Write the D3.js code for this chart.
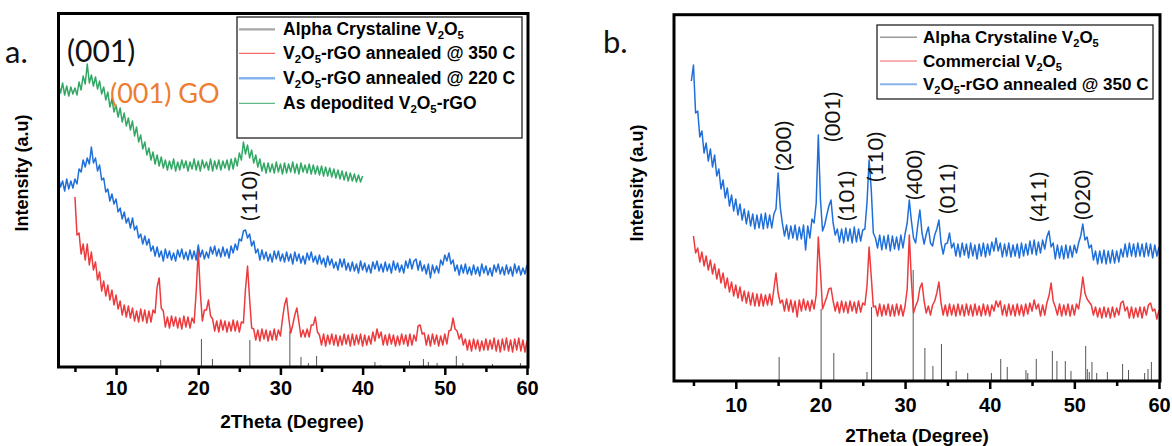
<!DOCTYPE html>
<html><head><meta charset="utf-8">
<script src="https://cdn.jsdelivr.net/npm/d3@7"></script>
<style>body{margin:0;background:#fff}svg{display:block}</style>
</head><body>
<svg id="c" width="1172" height="446"></svg>
<script>
// ---------- DATA ----------
const stepDeg = 0.25;                 // 2-theta step of the scans
const majorTicks = [10, 20, 30, 40, 50, 60];
const minorTicks = [5, 15, 25, 35, 45, 55];

// Panel a: legend entries
const legendA = ["Alpha Crystaline V_2O_5", "V_2O_5-rGO annealed @ 350 C", "V_2O_5-rGO annealed @ 220 C", "As depodited V_2O_5-rGO"];
// Panel b: legend entries
const legendB = ["Alpha Crystaline V_2O_5", "Commercial V_2O_5", "V_2O_5-rGO annealed @ 350 C"];

// Reference sticks (2theta, relative intensity)
const sticksA = [[15.44,7],[20.39,28],[21.73,8],[26.28,27],[31.15,36],[32.5,10],[33.4,4],[34.4,11],[41.5,5],[42.2,2],[45.7,6],[47.4,8],[48.0,5],[49.06,4],[51.4,11],[52.2,4],[55.8,3],[59.2,4]];
const sticksB = [[15.12,24],[20.08,72],[21.58,28],[25.5,9],[26.04,74],[30.96,111],[32.34,33],[33.29,15],[34.3,37],[36.04,10],[37.4,8],[40.2,8],[41.3,22],[42.07,14],[44.28,11],[44.5,8],[45.5,22],[47.4,30],[47.94,20],[48.93,20],[49.6,10],[51.34,35],[51.53,12],[51.76,9],[52.08,19],[52.64,8],[53.9,9],[55.7,17],[56.4,11],[58.3,8],[58.7,12],[59.1,19]];

// Panel a: As deposited V2O5-rGO (start 3.00 deg)
const startAGreen = 3;
const aGreen = [283,274,284,272, 281,271,280,273, 279,272,285,277, 291,283,303,284, 292,281,290,278,
 286,273,280,267, 275,260,268,255, 262,250,259,245, 254,241,249,237, 246,231,240,225,
 232,218,225,212, 219,207,215,203, 212,201,210,199, 207,197,206,198, 208,196,205,197,
 207,199,206,196, 205,198,208,197, 206,196,207,199, 205,197,208,196, 206,198,207,197,
 206,199,207,197, 208,198,209,201, 214,207,225,213, 222,209,217,204, 212,200,208,196,
 204,194,204,195, 203,194,205,195, 203,193,204,194, 203,195,205,194, 203,193,204,195,
 202,194,203,193, 202,193,201,192, 201,191,200,191, 199,190,198,189, 197,188,196,187,
 195,186,194,186, 193,185,192,185, 191];

// Panel a: V2O5-rGO annealed @ 220 C (start 3.00 deg)
const startABlue = 3;
const aBlue = [190,180,186,176, 188,178,186,179, 188,183,198,195, 207,200,209,203, 220,204,209,196,
 202,187,189,175, 178,166,173,163, 168,155,159,148, 155,144,149,139, 149,137,141,129,
 133,123,131,122, 128,116,121,111, 120,110,116,106, 118,109,116,107, 114,106,117,110,
 118,108,115,107, 117,108,116,107, 122,110,117,108, 115,109,120,113, 121,111,118,110,
 120,111,118,109, 121,114,123,117, 128,126,136,137, 129,133,121,126, 114,118,107,117,
 108,115,106,113, 105,116,108,116, 106,113,105,115, 106,113,103,115, 106,113,104,111,
 103,114,107,115, 105,111,103,112, 103,109,100,111, 102,108,99,105, 97,108,100,108,
 97,104,96,105, 96,103,94,106, 97,104,95,102, 94,105,98,106, 96,103,95,105,
 96,103,94,106, 97,104,95,102, 94,106,99,108, 98,106,108,97, 106,96,102,93,
 103,89,102,94, 101,94,107,102, 112,106,114,103, 107,96,102,92, 102,94,103,93,
 100,92,102,93, 100,91,103,94, 101,92,99,91, 102,95,103,93, 100,92,102,93,
 100,91,103,94, 101,92,99,93, 102];

// Panel a: V2O5-rGO annealed @ 350 C (start 5.00 deg)
const startARed = 5;
const aRed = [170,132,134,113, 123,107,123,102, 115,97,105,87, 95,76,86,71, 82,67,77,62,
 72,58,66,52, 62,50,61,49, 59,46,56,45, 58,46,57,44, 56,45,57,54,
 80,89,59,56, 40,50,39,51, 41,50,39,49, 38,51,40,50, 39,49,44,75,
 117,75,46,57, 57,67,51,48, 36,46,35,47, 37,46,35,45, 36,47,36,46,
 35,45,44,78, 101,68,39,38, 27,37,26,38, 28,37,26,36, 27,38,27,37,
 31,48,62,69, 50,34,42,52, 59,45,30,37, 30,38,30,42, 42,50,35,32,
 22,33,21,32, 23,33,22,32, 21,31,22,33, 23,32,21,33, 22,32,23,33,
 21,32,22,31, 23,35,26,38, 29,35,22,32, 22,33,23,32, 21,31,22,33,
 23,32,21,33, 22,32,26,41, 42,33,34,22, 32,21,33,23, 32,21,31,22,
 33,23,36,37, 49,38,36,28, 33,22,28,17, 27,16,28,18, 27,16,26,17,
 28,17,27,18, 29,16,27,15, 28,17,29,16, 27,15,28,17, 29,16,27,15, 26];

// Panel b: V2O5-rGO annealed @ 350 C (start 4.75 deg)
const startBBlue = 4.75;
const bBlue = [300,
 316,268,270,244, 250,228,238,220, 232,214,226,205, 212,192,201,183, 193,175,186,170,
 182,166,177,161, 172,157,170,155, 167,152,166,153, 167,152,168,153, 166,153,167,172,
 208,174,158,145, 156,142,155,143, 156,141,154,142, 156,131,155,143, 162,158,178,246,
 182,150,156,166, 175,181,158,146, 152,139,152,138, 153,140,152,138, 154,139,152,140,
 151,152,178,221, 192,148,143,133, 146,131,145,132, 146,130,145,132, 144,131,146,133,
 147,158,181,160, 143,138,156,171, 148,137,147,154, 138,135,146,152, 161,138,127,137,
 138,148,133,138, 125,137,124,138, 126,137,123,138, 125,136,122,137, 125,138,124,137,
 126,139,130,143, 130,138,124,137, 125,138,124,136, 125,137,123,138, 125,137,126,140,
 127,141,126,139, 128,141,132,144, 150,134,138,122, 136,123,135,122, 136,123,135,124,
 136,128,138,145, 157,141,144,133, 136,121,130,117, 130,118,131,117, 130,118,131,118,
 130,119,132,124, 137,124,138,125, 137,124,138,125, 137,124,138,125, 137,123,136,125, 134];

// Panel b: Commercial V2O5 (start 5.00 deg)
const startBRed = 5;
const bRed = [145,128,133,119, 129,115,125,111, 121,107,117,102, 112,98,108,93, 103,89,99,85,
 96,83,94,80, 90,78,89,76, 88,75,87,75, 87,75,86,76, 87,76,92,108,
 88,78,81,70, 82,70,81,69, 80,64,81,70, 82,71,80,70, 81,72,86,144,
 110,72,78,84, 92,93,80,70, 79,68,80,69, 79,68,80,70, 79,68,80,69,
 78,76,95,134, 105,74,75,65, 77,65,76,66, 77,65,76,65, 77,66,76,65,
 75,92,146,100, 68,75,80,93, 98,80,68,75, 66,76,80,88, 99,78,66,76,
 65,77,66,76, 65,77,66,76, 65,77,66,76, 65,77,66,75, 65,77,66,76,
 65,76,70,80, 74,80,66,76, 65,77,66,76, 65,77,66,76, 65,77,67,78,
 70,81,72,77, 65,76,66,78, 85,98,80,74, 66,77,65,76, 66,77,65,76,
 66,77,72,86, 104,88,82,79, 76,66,74,64, 73,63,74,64, 73,63,74,64,
 73,66,78,80, 70,74,63,74, 63,73,64,74, 63,74,66,76, 78,70,72,62, 71];

// Annotations: [label, 2theta, intensity]
const peakLabelsA = [["(110)", 26.06, 171]];
const peakLabelsB = [["(200)",15.46,235],["(001)",21.25,264],["(101)",23.02,185],["(110)",26.33,224],["(400)",30.94,206],["(011)",34.84,192],["(411)",45.59,184],["(020)",50.9,186]];

// ---------- DRAW ----------
const svg = d3.select('#c');
const ARIAL = "'Liberation Sans', Arial, sans-serif";
const CAL = "Lato, 'Open Sans', sans-serif";

function richText(sel, str, subSize){
  const parts = str.split(/_(\d)/);
  let shifted = false;
  parts.forEach((p,i)=>{
    if(p==='') return;
    const t = sel.append('tspan').text(p);
    if(i%2===1){ t.attr('font-size',subSize); if(!shifted){t.attr('dy',4);} shifted=true; }
    else if(shifted){ t.attr('dy',-4); shifted=false; }
  });
}

function panel(o){
  const x = d3.scaleLinear().domain(o.xDomain).range(o.xRange);
  const y = d3.scaleLinear().domain([0, o.bottom - o.top]).range([o.bottom, o.top]);
  const g = svg.append('g');
  g.append('g').selectAll('line').data(o.sticks).join('line')
    .attr('x1',d=>x(d[0])).attr('x2',d=>x(d[0]))
    .attr('y1',y(0)).attr('y2',d=>y(d[1]))
    .attr('stroke','#555').attr('stroke-width',1);
  const line = d3.line().x(d=>x(d[0])).y(d=>y(d[1]));
  o.series.forEach(s=>{
    const data = s.values.map((v,i)=>[s.start + i*stepDeg, v]);
    g.append('path').datum(data).attr('d',line)
      .attr('fill','none').attr('stroke',s.color).attr('stroke-width',1.5)
      .attr('stroke-linejoin','round');
  });
  g.append('rect').attr('x',o.xRange[0]).attr('y',o.top)
    .attr('width',o.frameRight-o.xRange[0]).attr('height',o.bottom-o.top)
    .attr('fill','none').attr('stroke','#000').attr('stroke-width',3);
  const ax = g.append('g').attr('transform',`translate(0,${o.bottom})`)
    .call(d3.axisBottom(x).tickValues(majorTicks).tickSize(8).tickPadding(o.pad).tickFormat(d3.format('d')));
  ax.select('.domain').remove();
  ax.selectAll('line').attr('stroke','#000').attr('stroke-width',2.5);
  ax.selectAll('text').attr('font-family',ARIAL).attr('font-weight','bold')
    .attr('font-size',20).attr('fill','#000');
  const mx = g.append('g').attr('transform',`translate(0,${o.bottom})`)
    .call(d3.axisBottom(x).tickValues(minorTicks).tickSize(5).tickFormat(''));
  mx.select('.domain').remove();
  mx.selectAll('line').attr('stroke','#000').attr('stroke-width',2.5);
  // axis titles
  g.append('text').attr('x',o.xTitle[0]).attr('y',o.xTitle[1]).attr('text-anchor','middle')
    .attr('font-family',ARIAL).attr('font-weight','bold').attr('font-size',19).text('2Theta (Degree)');
  g.append('text').attr('transform',`translate(${o.yTitle[0]},${o.yTitle[1]}) rotate(-90)`)
    .attr('text-anchor','middle').attr('font-family',ARIAL).attr('font-weight','bold')
    .attr('font-size',18).text('Intensity (a.u)');
  // peak labels
  o.peaks.forEach(p=>{
    g.append('text').attr('transform',`translate(${x(p[1])},${y(p[2])}) rotate(-90)`)
      .attr('text-anchor','middle').attr('dominant-baseline','central')
      .attr('font-family',CAL).attr('font-size',22).attr('fill','#111').text(p[0]);
  });
  // legend
  const L = o.legend;
  g.append('rect').attr('x',L.x).attr('y',L.y).attr('width',L.w).attr('height',L.h)
    .attr('fill','#fff').attr('stroke','#222').attr('stroke-width',1.3);
  o.legendItems.forEach((name,i)=>{
    const ly = L.rows[i];
    g.append('line').attr('x1',L.lx0).attr('x2',L.lx1).attr('y1',ly).attr('y2',ly)
      .attr('stroke',L.colors[i]).attr('stroke-width',L.widths[i]);
    const t = g.append('text').attr('x',L.tx).attr('y',ly+6).attr('font-family',ARIAL)
      .attr('font-weight','bold').attr('font-size',L.fs).attr('fill','#000');
    richText(t, name, L.fs*0.65);
  });
  return {x,y,g};
}

const RED = '#ec3a3d', BLUE = '#1f6fdb', GREEN = '#33a865';

panel({
  xDomain:[3,60], xRange:[58.5,527], frameRight:528, top:13.5, bottom:367, pad:6,
  sticks: sticksA,
  series:[{values:aRed,start:startARed,color:RED},{values:aBlue,start:startABlue,color:BLUE},{values:aGreen,start:startAGreen,color:GREEN}],
  xTitle:[292,428], yTitle:[28,173], peaks: peakLabelsA,
  legend:{x:237,y:17,w:285,h:121,rows:[29.3,53.3,78.3,103.3],lx0:239,lx1:275,tx:283,fs:17.5,
    colors:['#a6a6a6','#f04848','#86b4ee','#3aa86a'],widths:[2.2,1,2.5,1]},
  legendItems: legendA
});
panel({
  xDomain:[2.7,60], xRange:[674,1159], frameRight:1160, top:14.7, bottom:381, pad:9,
  sticks: sticksB,
  series:[{values:bRed,start:startBRed,color:RED},{values:bBlue,start:startBBlue,color:BLUE}],
  xTitle:[917,442], yTitle:[643,183], peaks: peakLabelsB,
  legend:{x:877,y:25,w:276,h:74,rows:[37.3,61,84.3],lx0:880,lx1:917,tx:923,fs:17,
    colors:['#9a9a9a','#f06060','#88b4ec'],widths:[1.5,1,2]},
  legendItems: legendB
});

// panel letters and big labels
svg.append('text').attr('x',5).attr('y',63).attr('font-family',CAL).attr('font-size',31).attr('fill','#111').text('a.');
svg.append('text').attr('x',603).attr('y',53).attr('font-family',CAL).attr('font-size',31).attr('fill','#111').text('b.');
svg.append('text').attr('x',67).attr('y',62).attr('font-family',CAL).attr('font-size',30).attr('fill','#111').text('(001)');
svg.append('text').attr('x',110).attr('y',103).attr('font-family',CAL).attr('font-size',27).attr('fill','#ed7d31').text('(001) GO');
</script>
</body></html>
